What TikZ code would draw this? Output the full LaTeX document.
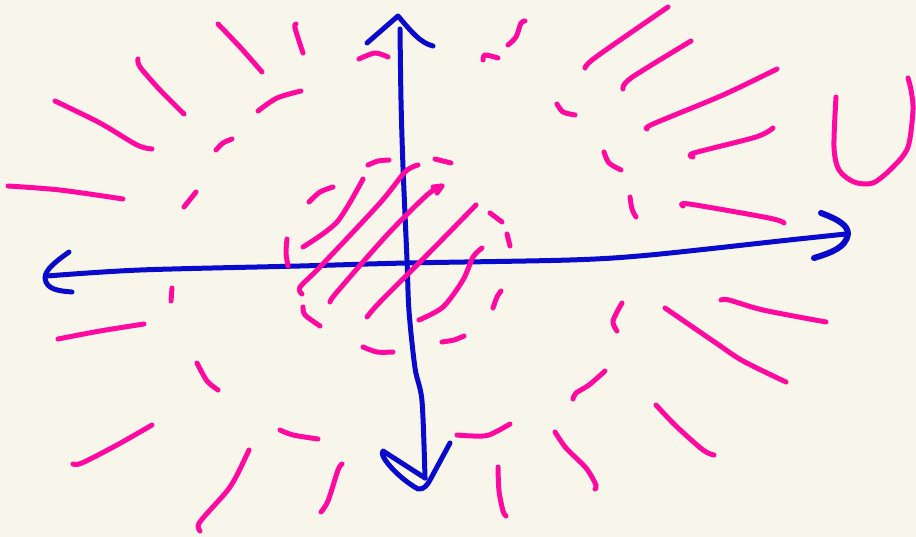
\documentclass[tikz,border=0pt]{standalone}
\usepackage{xcolor}
\definecolor{bgc}{HTML}{F8F6EB}
\definecolor{pinkc}{HTML}{FF0AA0}
\definecolor{bluec}{HTML}{0A0ACC}
\begin{document}
\begin{tikzpicture}[x=1pt,y=-1pt,
  pk/.style={draw=pinkc,line width=5pt,line cap=round,line join=round},
  bl/.style={draw=bluec,line width=5pt,line cap=round,line join=round}]
\fill[bgc] (0,0) rectangle (916,537);
\useasboundingbox (0,0) rectangle (916,537);
% axes
\draw[bl] plot[smooth,tension=0.5] coordinates {(47,276) (140,270) (300,266) (407,263) (570,260) (650,255) (789,240) (846,234)};
\draw[bl] plot[smooth,tension=0.5] coordinates {(400,29) (401,100) (403,167) (407,260) (409,311) (415,368) (422,401) (425,478)};
% arrowheads
\draw[bl] (367,43) -- (398,16) .. controls (410,30) and (420,43) .. (433,46);
\draw[bl] (69,252) .. controls (55,262) and (45,270) .. (45,278) .. controls (46,290) and (60,291) .. (72,292);
\draw[bl,line width=6pt] (821,213) .. controls (840,220) and (848,226) .. (848,234) .. controls (846,248) and (830,253) .. (814,258);
\draw[bl] (425,478) -- (383,451) .. controls (378,455) and (398,478) .. (418,489) .. controls (424,490) and (428,484) .. (430,480) -- (450,443);
% top-left rays
\draw[pk] plot[smooth] coordinates {(8,186) (60,190) (123,199)};
\draw[pk] plot[smooth] coordinates {(55,101) (100,123) (137,145) (152,149)};
\draw[pk] plot[smooth] coordinates {(138,59) (140,67) (160,90) (184,114)};
\draw[pk] plot[smooth] coordinates {(218,24) (240,47) (262,72)};
\draw[pk] plot[smooth] coordinates {(296,24) (295,28) (303,53)};
\draw[pk] plot[smooth] coordinates {(359,59) (375,53) (388,57)};
\draw[pk] plot[smooth] coordinates {(258,111) (277,98) (301,91)};
\draw[pk] plot[smooth] coordinates {(216,150) (223,143) (232,139)};
\draw[pk] plot[smooth] coordinates {(184,207) (196,192)};
% dashed circle
\draw[pk] plot[smooth] coordinates {(309,202) (320,192) (333,187)};
\draw[pk] plot[smooth] coordinates {(368,165) (378,161) (389,160)};
\draw[pk] plot[smooth] coordinates {(435,159) (451,163)};
\draw[pk] plot[smooth] coordinates {(490,213) (502,222)};
\draw[pk] plot[smooth] coordinates {(507,234) (510,246)};
\draw[pk] plot[smooth] coordinates {(501,291) (497,297) (493,308)};
\draw[pk] plot[smooth] coordinates {(442,342) (454,340) (464,336)};
\draw[pk] plot[smooth] coordinates {(363,347) (377,352) (393,352)};
\draw[pk] plot[smooth] coordinates {(303,307) (305,315) (320,326)};
\draw[pk] plot[smooth] coordinates {(287,239) (286,253) (288,266)};
% hatching
\draw[pk] plot[smooth] coordinates {(303,247) (337,222) (363,179)};
\draw[pk] plot[smooth] coordinates {(302,294) (300,287) (320,267) (380,203) (405,172) (418,165)};
\draw[pk] plot[smooth] coordinates {(330,302) (337,292) (387,235) (427,195) (442,186)};
\draw[pk] (433,187) -- (442,186) -- (437,193);
\draw[pk] plot[smooth] coordinates {(367,317) (380,302) (427,255) (476,205)};
\draw[pk] plot[smooth] coordinates {(419,320) (443,307) (463,280) (473,257) (482,248)};
% top-right rays
\draw[pk] plot[smooth] coordinates {(483,60) (485,55) (498,58)};
\draw[pk] plot[smooth] coordinates {(508,45) (516,37) (521,23) (525,21)};
\draw[pk] plot[smooth] coordinates {(585,68) (596,57) (668,7)};
\draw[pk] plot[smooth] coordinates {(623,89) (631,78) (691,41)};
\draw[pk] plot[smooth] coordinates {(557,104) (563,112) (575,115)};
\draw[pk] plot[smooth] coordinates {(647,129) (653,124) (723,95) (777,69)};
\draw[pk] plot[smooth] coordinates {(693,157) (694,153) (756,137) (773,128)};
\draw[pk] plot[smooth] coordinates {(604,152) (609,163) (621,170)};
\draw[pk] plot[smooth] coordinates {(630,197) (632,209) (636,217)};
\draw[pk] plot[smooth] coordinates {(683,206) (689,204) (769,218) (784,223)};
% U
\draw[pk] plot[smooth] coordinates {(836,97) (834,147) (839,170) (854,182) (873,183) (893,167) (908,147) (913,110) (911,90) (908,78)};
% bottom-right rays
\draw[pk] plot[smooth] coordinates {(622,303) (613,321) (617,331)};
\draw[pk] plot[smooth] coordinates {(721,300) (729,300) (763,310) (826,322)};
\draw[pk] plot[smooth] coordinates {(665,308) (716,343) (743,361) (786,382)};
\draw[pk] plot[smooth] coordinates {(605,371) (589,385) (576,393) (573,399)};
\draw[pk] plot[smooth] coordinates {(656,405) (676,426) (703,450) (714,455)};
\draw[pk] plot[smooth] coordinates {(510,424) (489,435) (473,436) (457,435)};
\draw[pk] plot[smooth] coordinates {(555,432) (566,448) (586,468) (596,485) (595,489)};
\draw[pk] plot[smooth] coordinates {(498,467) (499,491) (503,511) (506,516)};
% bottom-left rays
\draw[pk] plot[smooth] coordinates {(172,288) (171,301)};
\draw[pk] plot[smooth] coordinates {(58,339) (100,331) (144,324)};
\draw[pk] plot[smooth] coordinates {(197,363) (207,381) (218,390)};
\draw[pk] plot[smooth] coordinates {(73,464) (82,463) (117,445) (152,425)};
\draw[pk] plot[smooth] coordinates {(280,430) (293,435) (318,439)};
\draw[pk] plot[smooth] coordinates {(249,450) (237,475) (227,491) (203,518) (198,526) (200,531)};
\draw[pk] plot[smooth] coordinates {(342,464) (338,470) (328,501) (321,512)};
\end{tikzpicture}
\end{document}
